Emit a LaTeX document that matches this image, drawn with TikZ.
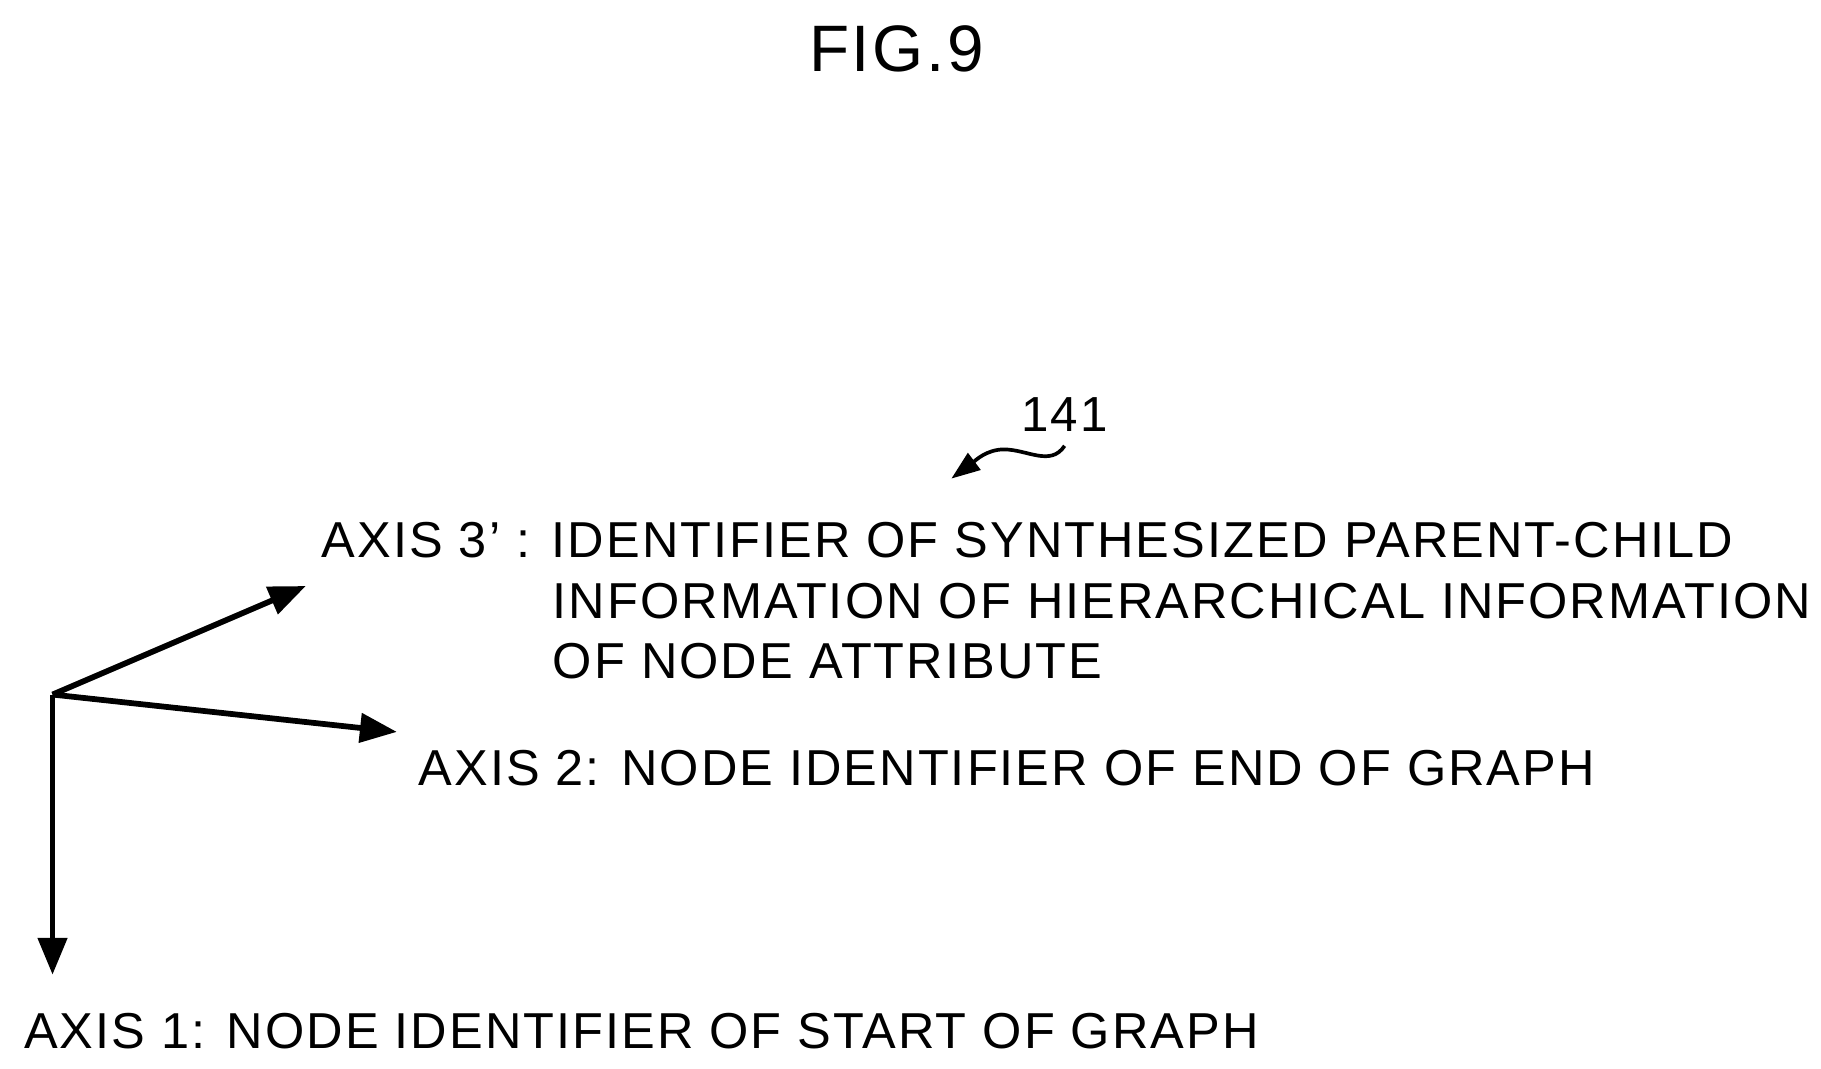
\documentclass[tikz,border=0pt]{standalone}
\usepackage{fontspec}
\setmainfont{Liberation Sans}[LetterSpace=4]
\usetikzlibrary{arrows.meta}
\tikzset{axislabel/.style={anchor=base west,inner sep=0pt,font=\fontsize{12.3}{18}\selectfont},
  axisarrow/.style={line width=1.4pt,-{Triangle[length=9pt,width=7pt]}}}
\begin{document}
\begin{tikzpicture}[x=0.01cm,y=-0.01cm]
\useasboundingbox (0,0) rectangle (1560,915);
\node[font=\fontsize{16}{20}\selectfont] (fig) at (768,42) {FIG.9};
\node[font=\fontsize{12}{14}\selectfont] (ref) at (912,355) {141};
\coordinate (o) at (45,595);
\coordinate (e3) at (262,502);
\coordinate (e2) at (340,627);
\coordinate (e1) at (45,835);
\coordinate (sq) at (815,410);
\node[axislabel] (ax3) at (275,478) {AXIS 3\textquoteright\ : IDENTIFIER OF SYNTHESIZED PARENT-CHILD};
\node[axislabel] (ax3b) at (473,530) {INFORMATION OF HIERARCHICAL INFORMATION};
\node[axislabel] (ax3c) at (473,581) {OF NODE ATTRIBUTE};
\node[axislabel] (ax2) at (358,673) {AXIS 2: NODE IDENTIFIER OF END OF GRAPH};
\node[axislabel] (ax1) at (20,898) {AXIS 1: NODE IDENTIFIER OF START OF GRAPH};
\draw[axisarrow] (o) -- (e3);
\draw[axisarrow] (o) -- (e2);
\draw[axisarrow] (o) -- (e1);
\draw[line width=0.9pt,-{Triangle[length=7pt,width=5pt]}] (ref.south) .. controls (900,400) and (880,385) .. (860,385) .. controls (845,385) and (835,395) .. (sq);
\end{tikzpicture}
\end{document}
